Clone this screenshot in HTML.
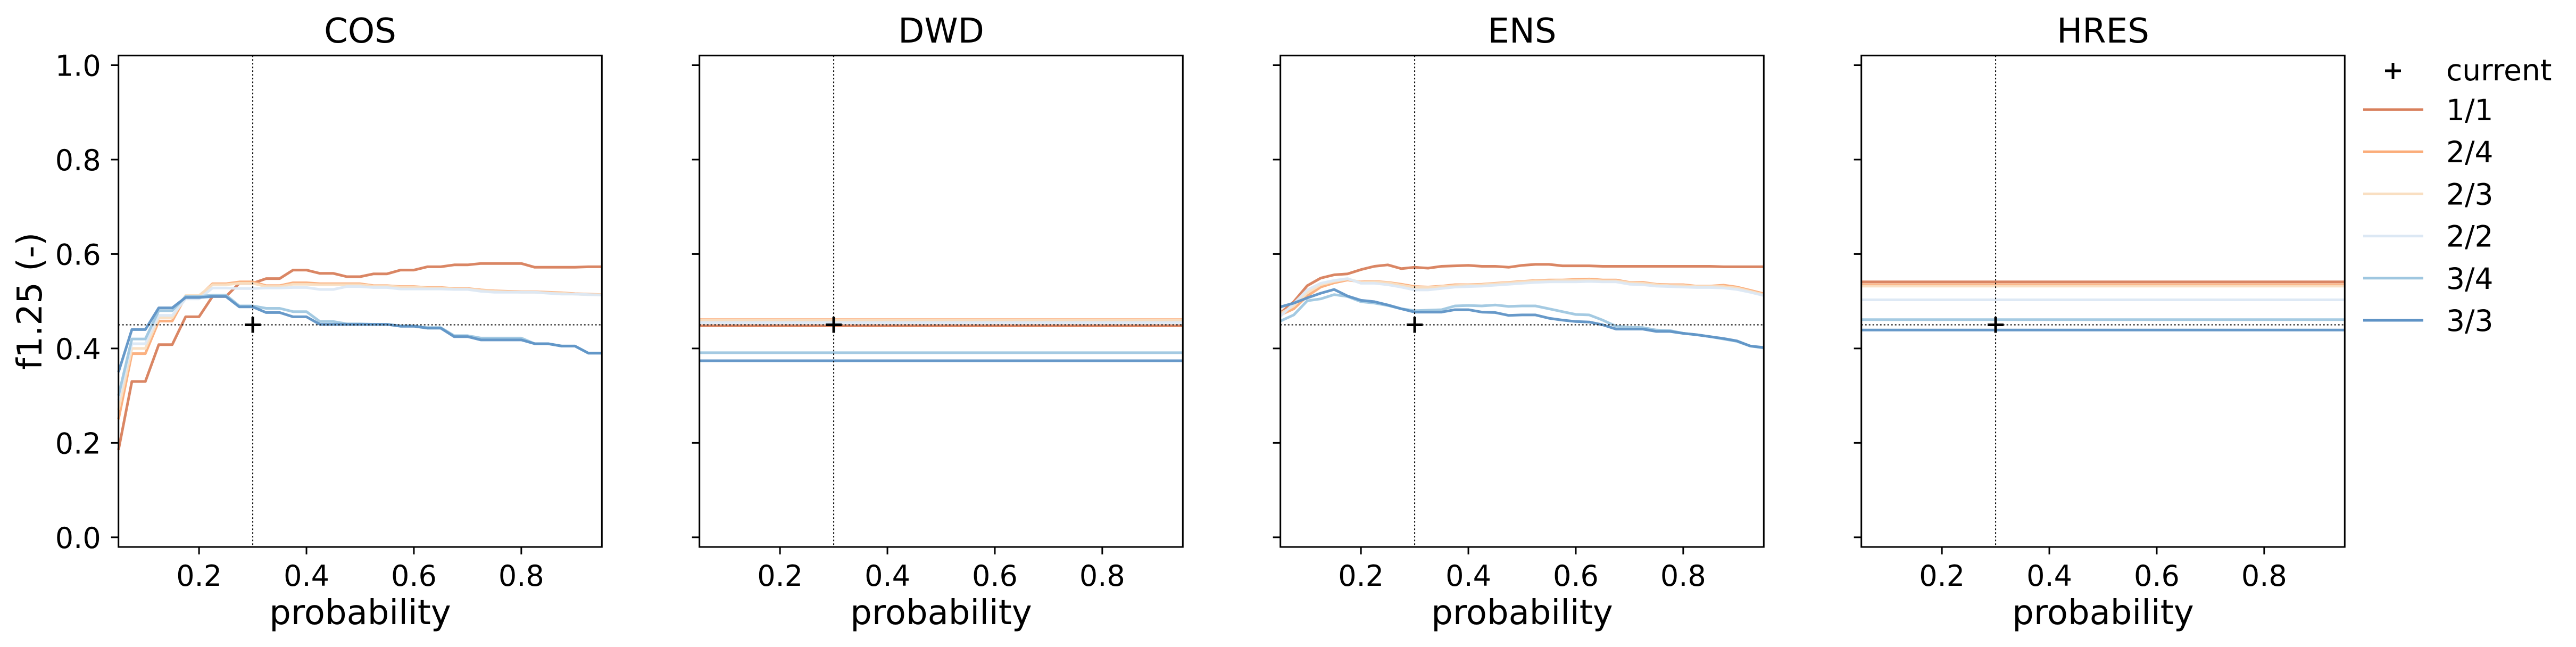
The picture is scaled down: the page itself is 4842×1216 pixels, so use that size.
<!DOCTYPE html>
<html><head><meta charset="utf-8"><style>
html,body{margin:0;padding:0;background:#fff}
svg{display:block}
text{font-family:"DejaVu Sans","Liberation Sans",sans-serif;fill:#000}
</style></head><body>
<svg id="chart" width="4842" height="1216" viewBox="0 0 4842 1216" xmlns="http://www.w3.org/2000/svg"></svg>
<script>
const panels = ["COS","DWD","ENS","HRES"];
const seriesNames = ["1/1","2/4","2/3","2/2","3/4","3/3"];
const seriesColors = ["#d8805c","#fbad7a","#f9dfc2","#dce8f4","#9fc7e0","#5f93c6"];
const probs = [];
for (let i = 0; i < 37; i++) probs.push(+(0.05 + 0.025*i).toFixed(3));
const xTicks = [0.2,0.4,0.6,0.8];
const yTicks = [0.0,0.2,0.4,0.6,0.8,1.0];
const yTickLabels = ["0.0","0.2","0.4","0.6","0.8","1.0"];
const xTickLabels = ["0.2","0.4","0.6","0.8"];
const currentP = 0.3;
const currentF = 0.45;

const cos11 = [0.185,0.33,0.33,0.408,0.408,0.467,0.467,0.51,0.51,0.538,0.538,0.548,0.548,0.566,0.566,0.559,0.559,0.552,0.552,0.558,0.558,0.566,0.566,0.573,0.573,0.577,0.577,0.58,0.58,0.58,0.58,0.572,0.572,0.572,0.572,0.573,0.573];
const cos24 = [0.25,0.389,0.389,0.458,0.458,0.51,0.51,0.537,0.537,0.541,0.541,0.533,0.533,0.539,0.539,0.537,0.537,0.537,0.537,0.533,0.533,0.531,0.531,0.529,0.529,0.527,0.527,0.524,0.522,0.521,0.52,0.52,0.519,0.518,0.516,0.515,0.514];
const cos23 = [0.27,0.40,0.40,0.465,0.465,0.512,0.512,0.535,0.535,0.538,0.538,0.531,0.531,0.536,0.536,0.535,0.535,0.535,0.535,0.532,0.532,0.530,0.530,0.528,0.528,0.526,0.526,0.523,0.521,0.520,0.519,0.519,0.518,0.517,0.515,0.514,0.514];
const cos22 = [0.29,0.41,0.41,0.47,0.47,0.505,0.505,0.528,0.528,0.527,0.527,0.528,0.528,0.529,0.529,0.525,0.525,0.531,0.531,0.529,0.529,0.526,0.526,0.526,0.526,0.525,0.525,0.521,0.519,0.519,0.519,0.519,0.517,0.515,0.515,0.514,0.513];
const cos34 = [0.30,0.42,0.42,0.48,0.48,0.51,0.51,0.513,0.513,0.49,0.49,0.485,0.485,0.478,0.478,0.457,0.457,0.452,0.452,0.451,0.451,0.448,0.448,0.444,0.444,0.427,0.427,0.422,0.422,0.422,0.422,0.41,0.41,0.405,0.405,0.39,0.39];
const cos33 = [0.35,0.44,0.44,0.486,0.486,0.508,0.508,0.51,0.51,0.488,0.488,0.476,0.476,0.467,0.467,0.451,0.451,0.451,0.451,0.451,0.451,0.447,0.447,0.443,0.443,0.425,0.425,0.418,0.418,0.418,0.418,0.41,0.41,0.405,0.405,0.39,0.39];

const dwd11 = [0.448,0.448];
const dwd24 = [0.461,0.461];
const dwd23 = [0.459,0.459];
const dwd22 = [0.455,0.455];
const dwd34 = [0.391,0.391];
const dwd33 = [0.374,0.374];

const ens11 = [0.475,0.499,0.533,0.549,0.556,0.558,0.567,0.574,0.577,0.569,0.572,0.570,0.574,0.575,0.576,0.574,0.574,0.572,0.576,0.578,0.578,0.575,0.575,0.575,0.574,0.574,0.574,0.574,0.574,0.574,0.574,0.574,0.574,0.573,0.573,0.573,0.573];
const ens24 = [0.471,0.484,0.511,0.530,0.539,0.545,0.541,0.542,0.540,0.536,0.531,0.530,0.532,0.535,0.535,0.536,0.538,0.540,0.542,0.544,0.545,0.545,0.546,0.547,0.545,0.545,0.540,0.540,0.536,0.535,0.535,0.532,0.532,0.534,0.530,0.523,0.516];
const ens23 = [0.474,0.490,0.518,0.535,0.542,0.547,0.540,0.541,0.539,0.534,0.529,0.529,0.531,0.533,0.534,0.535,0.537,0.539,0.541,0.543,0.543,0.544,0.544,0.545,0.543,0.543,0.539,0.538,0.535,0.533,0.533,0.531,0.531,0.531,0.528,0.521,0.514];
const ens22 = [0.468,0.495,0.524,0.538,0.544,0.548,0.538,0.538,0.535,0.530,0.524,0.524,0.527,0.530,0.531,0.532,0.534,0.536,0.538,0.540,0.541,0.541,0.541,0.542,0.541,0.541,0.536,0.535,0.532,0.531,0.530,0.529,0.529,0.528,0.525,0.519,0.512];
const ens34 = [0.458,0.471,0.501,0.505,0.514,0.510,0.499,0.496,0.491,0.484,0.480,0.481,0.482,0.490,0.491,0.490,0.492,0.489,0.490,0.490,0.484,0.478,0.472,0.471,0.460,0.447,0.445,0.444,0.439,0.438,0.432,0.429,0.425,0.420,0.415,0.405,0.401];
const ens33 = [0.488,0.496,0.507,0.517,0.525,0.511,0.502,0.499,0.492,0.484,0.477,0.477,0.477,0.482,0.482,0.477,0.476,0.470,0.471,0.471,0.464,0.460,0.457,0.456,0.450,0.441,0.441,0.441,0.436,0.436,0.432,0.429,0.425,0.421,0.416,0.405,0.402];

const hres11 = [0.541,0.541];
const hres24 = [0.535,0.535];
const hres23 = [0.532,0.532];
const hres22 = [0.503,0.503];
const hres34 = [0.461,0.461];
const hres33 = [0.439,0.439];

const flatProbs = [0.05,0.95];
const panelData = [
  {x: probs, ys: [cos11,cos24,cos23,cos22,cos34,cos33]},
  {x: flatProbs, ys: [dwd11,dwd24,dwd23,dwd22,dwd34,dwd33]},
  {x: probs, ys: [ens11,ens24,ens23,ens22,ens34,ens33]},
  {x: flatProbs, ys: [hres11,hres24,hres23,hres22,hres34,hres33]}
];

const NS = "http://www.w3.org/2000/svg";
const svg = document.getElementById("chart");
const P0 = 222.7, PW = 908.6, PSTEP = 1092, TOP = 104.3, BOT = 1028;
const XMIN = 0.05, XMAX = 0.95, YMIN = -0.0205, YMAX = 1.0205;
function mk(tag, attrs, parent){
  const e = document.createElementNS(NS, tag);
  for (const k in attrs) e.setAttribute(k, attrs[k]);
  (parent||svg).appendChild(e);
  return e;
}
panels.forEach((name, pi) => {
  const L = P0 + pi*PSTEP, R = L + PW;
  const sx = v => L + (v - XMIN)/(XMAX - XMIN)*PW;
  const sy = v => BOT - (v - YMIN)/(YMAX - YMIN)*(BOT - TOP);
  const g = mk("g", {});
  
  
  const title = mk("text", {x: (L+R)/2, y: 80, "font-size": 64, "text-anchor": "middle"}, g);
  title.textContent = name;
  
  
  const data = panelData[pi];
  data.ys.forEach((ys, si) => {
    const pts = ys.map((v, i) => sx(data.x[i]).toFixed(1) + "," + sy(v).toFixed(1)).join(" ");
    const pl = mk("polyline", {points: pts, fill: "none", stroke: seriesColors[si], "stroke-width": 5, "stroke-linejoin": "round", opacity: 0.95}, g);
    
    
  });
  const vl = mk("line", {x1: sx(currentP), x2: sx(currentP), y1: TOP, y2: BOT, stroke: "#000", "stroke-width": 2, "stroke-dasharray": "3,4"}, g);
  
  
  const hl = mk("line", {x1: L, x2: R, y1: sy(currentF), y2: sy(currentF), stroke: "#000", "stroke-width": 2, "stroke-dasharray": "3,4"}, g);
  
  
  const cx = sx(currentP), cy = sy(currentF);
  const mkp = mk("path", {d: `M${cx-15},${cy}H${cx+15}M${cx},${cy-15}V${cy+15}`, stroke: "#000", "stroke-width": 5}, g);
  
  
  const frame = mk("rect", {x: L, y: TOP, width: PW, height: BOT-TOP, fill: "none", stroke: "#000", "stroke-width": 3}, g);
  
  
  xTicks.forEach((t, i) => {
    const x = sx(t);
    mk("line", {x1: x, x2: x, y1: BOT, y2: BOT+14, stroke: "#000", "stroke-width": 3}, g);
    const tl = mk("text", {x: x, y: 1101, "font-size": 54, "text-anchor": "middle"}, g);
    tl.textContent = xTickLabels[i];
    
    
  });
  yTicks.forEach((t, i) => {
    const y = sy(t);
    mk("line", {x1: L-14, x2: L, y1: y, y2: y, stroke: "#000", "stroke-width": 3}, g);
    if (pi === 0) {
      const tl = mk("text", {x: L-33, y: y+20, "font-size": 54, "text-anchor": "end"}, g);
      tl.textContent = yTickLabels[i];
      
      
    }
  });
  const xl = mk("text", {x: (L+R)/2, y: 1173, "font-size": 64, "text-anchor": "middle"}, g);
  xl.textContent = "probability";
  
  
});
const yl = mk("text", {x: 0, y: 0, "font-size": 64, "text-anchor": "middle", transform: "translate(78,566) rotate(-90)"});
yl.textContent = "f1.25 (-)";



const lg = mk("g", {});


const lm = mk("path", {d: "M4483,133H4513M4498,118V148", stroke: "#000", "stroke-width": 5}, lg);


const lt0 = mk("text", {x: 4598, y: 151, "font-size": 55}, lg);
lt0.textContent = "current";


seriesNames.forEach((n, i) => {
  const y = 206 + i*79.2;
  const ll = mk("line", {x1: 4442, x2: 4555, y1: y, y2: y, stroke: seriesColors[i], "stroke-width": 5}, lg);
  
  
  const t = mk("text", {x: 4598, y: y+20, "font-size": 55}, lg);
  t.textContent = n;
  
  
});
</script>
</body></html>
